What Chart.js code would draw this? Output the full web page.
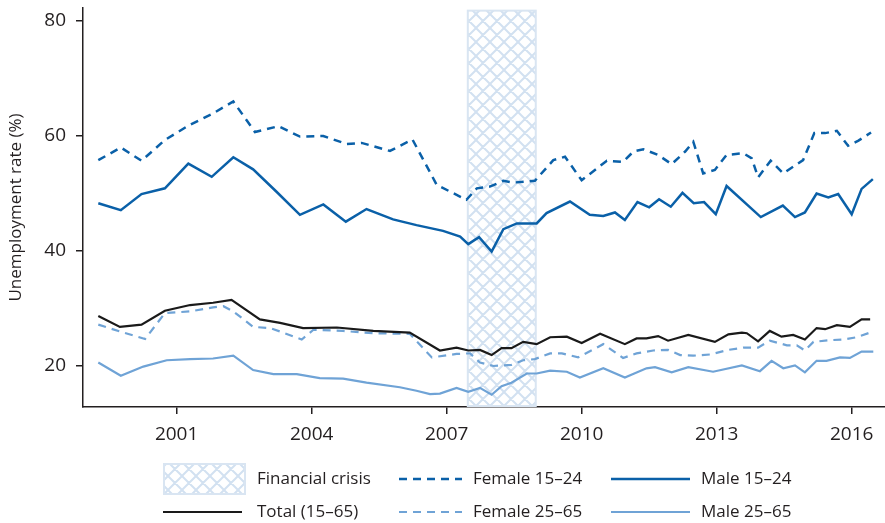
<!DOCTYPE html>
<html>
<head>
<meta charset="utf-8">
<script src="https://cdn.jsdelivr.net/npm/chart.js@4.4.1/dist/chart.umd.min.js"></script>
<style>
  html, body { margin: 0; padding: 0; background: #fff; }
  #wrap { width: 885px; height: 523px; }
</style>
</head>
<body>
<div id="wrap"><canvas id="unempChart" width="885" height="523"></canvas></div>
<script>
(function() {
  'use strict';

  // ===== DATA: [year, rate %] =====
  const male1524 = [
    [1999.26, 48.3], [1999.76, 47.1], [2000.22, 49.9], [2000.74, 50.9], [2001.26, 55.2],
    [2001.78, 52.9], [2002.26, 56.3], [2002.70, 54.2], [2003.22, 50.3], [2003.74, 46.3],
    [2004.26, 48.1], [2004.76, 45.1], [2005.22, 47.3], [2005.81, 45.5], [2006.33, 44.5],
    [2006.92, 43.5], [2007.30, 42.5], [2007.48, 41.2], [2007.72, 42.4], [2008.00, 39.9],
    [2008.26, 43.8], [2008.56, 44.8], [2009.00, 44.8], [2009.22, 46.6], [2009.74, 48.6],
    [2010.18, 46.3], [2010.48, 46.1], [2010.74, 46.7], [2010.96, 45.4], [2011.24, 48.5],
    [2011.50, 47.6], [2011.72, 49.0], [2011.98, 47.7], [2012.24, 50.1], [2012.49, 48.3],
    [2012.72, 48.5], [2012.98, 46.4], [2013.22, 51.3], [2013.98, 45.9], [2014.47, 47.9],
    [2014.74, 45.9], [2014.96, 46.7], [2015.22, 50.0], [2015.48, 49.3], [2015.70, 49.9],
    [2016.00, 46.4], [2016.22, 50.8], [2016.47, 52.5]
  ];
  const female1524 = [
    [1999.26, 55.8], [1999.76, 58.0], [2000.22, 55.7], [2000.74, 59.3], [2001.26, 61.8],
    [2001.78, 63.8], [2002.26, 66.0], [2002.74, 60.7], [2003.26, 61.7], [2003.74, 59.9],
    [2004.26, 60.0], [2004.78, 58.6], [2005.11, 58.8], [2005.74, 57.4], [2006.24, 59.4],
    [2006.78, 51.5], [2007.44, 48.9], [2007.67, 50.9], [2007.96, 51.2], [2008.26, 52.2],
    [2008.48, 51.9], [2008.96, 52.2], [2009.37, 55.8], [2009.63, 56.4], [2010.00, 52.3],
    [2010.56, 55.7], [2010.92, 55.5], [2011.15, 57.3], [2011.37, 57.7], [2011.70, 56.7],
    [2012.00, 55.1], [2012.30, 57.3], [2012.48, 59.0], [2012.70, 53.5], [2012.96, 54.1],
    [2013.22, 56.7], [2013.59, 57.0], [2013.78, 56.1], [2013.92, 52.8], [2014.20, 55.7],
    [2014.48, 53.5], [2014.92, 55.8], [2015.17, 60.5], [2015.41, 60.5], [2015.67, 60.9],
    [2015.92, 58.3], [2016.15, 59.2], [2016.43, 60.6]
  ];
  const total1565 = [
    [1999.26, 28.7], [1999.74, 26.8], [2000.22, 27.2], [2000.74, 29.6], [2001.30, 30.6],
    [2001.81, 31.0], [2002.22, 31.5], [2002.85, 28.1], [2003.30, 27.5], [2003.81, 26.6],
    [2004.56, 26.7], [2005.37, 26.1], [2006.18, 25.8], [2006.85, 22.7], [2007.22, 23.2],
    [2007.48, 22.7], [2007.74, 22.8], [2008.00, 21.9], [2008.22, 23.1], [2008.44, 23.1],
    [2008.70, 24.2], [2009.00, 23.8], [2009.30, 25.0], [2009.67, 25.1], [2010.00, 24.0],
    [2010.41, 25.6], [2010.96, 23.8], [2011.22, 24.8], [2011.44, 24.8], [2011.70, 25.2],
    [2011.92, 24.4], [2012.37, 25.4], [2012.96, 24.2], [2013.26, 25.5], [2013.56, 25.8],
    [2013.67, 25.7], [2013.92, 24.3], [2014.18, 26.1], [2014.44, 25.1], [2014.70, 25.4],
    [2014.96, 24.6], [2015.22, 26.6], [2015.41, 26.4], [2015.67, 27.1], [2015.96, 26.8],
    [2016.22, 28.1], [2016.41, 28.1]
  ];
  const female2565 = [
    [1999.26, 27.2], [1999.74, 26.0], [2000.30, 24.7], [2000.74, 29.2], [2001.30, 29.5],
    [2001.81, 30.2], [2002.04, 30.4], [2002.26, 29.5], [2002.70, 26.8], [2003.07, 26.6],
    [2003.30, 26.0], [2003.78, 24.6], [2004.04, 26.3], [2004.70, 26.1], [2005.37, 25.7],
    [2006.18, 25.6], [2006.67, 21.5], [2007.22, 22.1], [2007.52, 22.2], [2007.74, 20.6],
    [2008.04, 20.0], [2008.44, 20.2], [2008.70, 21.0], [2008.96, 21.2], [2009.30, 22.2],
    [2009.56, 22.2], [2009.92, 21.5], [2010.48, 23.8], [2010.92, 21.4], [2011.22, 22.2],
    [2011.59, 22.7], [2011.92, 22.8], [2012.19, 21.9], [2012.48, 21.8], [2012.85, 22.0],
    [2013.26, 22.8], [2013.59, 23.2], [2013.92, 23.2], [2014.18, 24.4], [2014.56, 23.6],
    [2014.78, 23.6], [2014.96, 22.7], [2015.15, 24.2], [2015.52, 24.5], [2015.81, 24.6],
    [2016.11, 25.0], [2016.44, 25.9]
  ];
  const male2565 = [
    [1999.26, 20.6], [1999.76, 18.3], [2000.26, 19.9], [2000.78, 21.0], [2001.30, 21.2],
    [2001.81, 21.3], [2002.26, 21.8], [2002.70, 19.3], [2003.15, 18.6], [2003.67, 18.6],
    [2004.18, 17.9], [2004.70, 17.8], [2005.22, 17.1], [2005.96, 16.3], [2006.33, 15.7],
    [2006.63, 15.1], [2006.85, 15.2], [2007.22, 16.2], [2007.48, 15.5], [2007.74, 16.2],
    [2008.00, 15.0], [2008.22, 16.5], [2008.44, 17.1], [2008.78, 18.7], [2009.00, 18.7],
    [2009.30, 19.2], [2009.67, 19.0], [2009.96, 18.0], [2010.48, 19.6], [2010.96, 18.0],
    [2011.44, 19.6], [2011.63, 19.8], [2012.00, 18.9], [2012.37, 19.8], [2012.92, 19.0],
    [2013.56, 20.1], [2013.96, 19.1], [2014.22, 20.9], [2014.48, 19.6], [2014.74, 20.1],
    [2014.96, 18.9], [2015.22, 20.9], [2015.44, 20.9], [2015.74, 21.5], [2015.96, 21.4],
    [2016.22, 22.5], [2016.48, 22.5]
  ];

  const xTicks = [2001, 2004, 2007, 2010, 2013, 2016];
  const yTicks = [20, 40, 60, 80];
  const crisisSpan = [2007.47, 2008.98];
  const crisisTop = 81.8;

  // ===== STYLE =====
  const FONT = "'Open Sans', 'Noto Sans', sans-serif";
  const ink = '#231f20';
  const colors = {
    dark: '#0a60a8',
    light: '#6fa3d6',
    black: '#1a1a1a',
    hatch: '#d2e1f1',
    hatchEdge: '#d9e5f2'
  };

  function toPoints(arr) {
    return arr.map(p => ({ x: p[0], y: p[1] }));
  }

  // diamond cross-hatch used for the crisis band and its legend swatch
  function makeHatch(ctx) {
    const s = 14;
    const c = document.createElement('canvas');
    c.width = s; c.height = s;
    const g = c.getContext('2d');
    g.fillStyle = '#fff';
    g.fillRect(0, 0, s, s);
    g.strokeStyle = colors.hatch;
    g.lineWidth = 2;
    g.beginPath();
    [-s, 0, s].forEach(o => {
      g.moveTo(o, 0); g.lineTo(o + s, s);
      g.moveTo(o + s, 0); g.lineTo(o, s);
    });
    g.stroke();
    return ctx.createPattern(c, 'repeat');
  }

  const crisisBand = {
    id: 'crisisBand',
    beforeDatasetsDraw(chart) {
      const { ctx, chartArea, scales: { x, y } } = chart;
      const l = x.getPixelForValue(crisisSpan[0]);
      const r = x.getPixelForValue(crisisSpan[1]);
      const t = y.getPixelForValue(crisisTop);
      const b = chartArea.bottom - 1;
      ctx.save();
      ctx.fillStyle = makeHatch(ctx);
      ctx.fillRect(l, t, r - l, b - t);
      ctx.strokeStyle = colors.hatchEdge;
      ctx.lineWidth = 2;
      ctx.strokeRect(l, t, r - l, b - t);
      ctx.restore();
    }
  };

  // two-row legend below the axis
  const legendItems = [
    { crisis: true, text: 'Financial crisis', x0: 164, x1: 245, tx: 257, row: 0 },
    { ds: 1, x0: 399, x1: 462, tx: 473, row: 0 },
    { ds: 0, x0: 611, x1: 690, tx: 701, row: 0 },
    { ds: 2, x0: 163, x1: 242, tx: 257, row: 1 },
    { ds: 4, x0: 399, x1: 462, tx: 473, row: 1 },
    { ds: 3, x0: 611, x1: 690, tx: 701, row: 1 }
  ];
  const legendRowsY = [479, 512];

  const bottomLegend = {
    id: 'bottomLegend',
    afterDraw(chart) {
      const ctx = chart.ctx;
      ctx.save();
      ctx.font = '17px ' + FONT;
      ctx.textBaseline = 'middle';
      legendItems.forEach(item => {
        const y = legendRowsY[item.row];
        let label = item.text;
        if (item.crisis) {
          ctx.fillStyle = makeHatch(ctx);
          ctx.fillRect(item.x0, y - 15, item.x1 - item.x0, 30);
          ctx.strokeStyle = colors.hatchEdge;
          ctx.lineWidth = 2;
          ctx.strokeRect(item.x0, y - 15, item.x1 - item.x0, 30);
        } else {
          const ds = chart.data.datasets[item.ds];
          label = ds.label;
          ctx.strokeStyle = ds.borderColor;
          ctx.lineWidth = ds.borderWidth;
          ctx.setLineDash(ds.borderDash || []);
          ctx.beginPath();
          ctx.moveTo(item.x0, y);
          ctx.lineTo(item.x1, y);
          ctx.stroke();
          ctx.setLineDash([]);
        }
        ctx.fillStyle = ink;
        ctx.fillText(label, item.tx, y);
      });
      ctx.restore();
    }
  };

  function line(label, data, color, width, dash) {
    return {
      label: label,
      data: toPoints(data),
      borderColor: color,
      backgroundColor: color,
      borderWidth: width,
      borderDash: dash,
      pointRadius: 0,
      tension: 0,
      fill: false
    };
  }

  // keep the plot box fixed: no extra room for half tick labels
  function noLabelPadding(scale) {
    scale.paddingTop = 0;
    scale.paddingBottom = 0;
    scale.paddingLeft = 0;
    scale.paddingRight = 0;
  }

  new Chart(document.getElementById('unempChart'), {
    type: 'line',
    data: {
      datasets: [
        line('Male 15–24', male1524, colors.dark, 2.5),
        line('Female 15–24', female1524, colors.dark, 2.5, [8, 6]),
        line('Total (15–65)', total1565, colors.black, 2.2),
        line('Male 25–65', male2565, colors.light, 2.2),
        line('Female 25–65', female2565, colors.light, 2.2, [8, 6])
      ]
    },
    options: {
      responsive: false,
      animation: false,
      devicePixelRatio: 1,
      layout: { padding: { top: 8, right: 0, bottom: 0, left: 0 } },
      plugins: {
        legend: { display: false },
        tooltip: { enabled: false }
      },
      scales: {
        x: {
          type: 'linear',
          min: 1998.92,
          max: 2016.74,
          afterFit(scale) { scale.height = 116; noLabelPadding(scale); },
          afterBuildTicks(scale) { scale.ticks = xTicks.map(v => ({ value: v })); },
          ticks: {
            autoSkip: false,
            maxRotation: 0,
            padding: 9,
            color: ink,
            font: { family: FONT, size: 19 },
            callback: v => String(v)
          },
          grid: { drawOnChartArea: false, drawTicks: true, tickLength: 7, color: ink, lineWidth: 1.5 },
          border: { display: true, color: ink, width: 1.5 }
        },
        y: {
          min: 12.87,
          max: 82.26,
          afterFit(scale) { scale.width = 83; noLabelPadding(scale); },
          afterBuildTicks(scale) { scale.ticks = yTicks.map(v => ({ value: v })); },
          ticks: {
            padding: 10,
            color: ink,
            font: { family: FONT, size: 19 }
          },
          grid: { drawOnChartArea: false, drawTicks: true, tickLength: 7, color: ink, lineWidth: 1.5 },
          border: { display: true, color: ink, width: 1.5 },
          title: {
            display: true,
            text: 'Unemployment rate (%)',
            color: ink,
            font: { family: FONT, size: 17 },
            padding: { top: 6, bottom: 0 }
          }
        }
      }
    },
    plugins: [crisisBand, bottomLegend]
  });
})();
</script>
</body>
</html>
